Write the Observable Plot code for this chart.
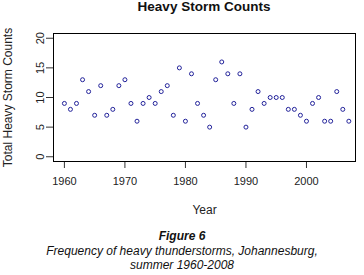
<!DOCTYPE html>
<html><head><meta charset="utf-8">
<script src="https://cdn.jsdelivr.net/npm/d3@7"></script>
<script src="https://cdn.jsdelivr.net/npm/@observablehq/plot@0.6"></script>
<style>
body{margin:0;background:#fff;font-family:"Liberation Sans",Arial,sans-serif;}
#wrap{position:relative;width:364px;height:275px;overflow:hidden;}
#title{position:absolute;top:-1px;left:53px;width:302px;text-align:center;font-weight:bold;font-size:13.5px;line-height:16px;color:#111;}
#caption{position:absolute;top:229px;left:0;width:364px;text-align:center;font-style:italic;font-size:12px;line-height:14.5px;color:#111;}
#caption b{font-weight:bold;}
</style></head>
<body>
<div id="wrap">
<div id="chart"></div>
<div id="title">Heavy Storm Counts</div>
<div id="caption"><b>Figure 6</b><br>Frequency of heavy thunderstorms, Johannesburg,<br>summer 1960-2008</div>
</div>
<script>
const years = [1960,1961,1962,1963,1964,1965,1966,1967,1968,1969,
               1970,1971,1972,1973,1974,1975,1976,1977,1978,1979,
               1980,1981,1982,1983,1984,1985,1986,1987,1988,1989,
               1990,1991,1992,1993,1994,1995,1996,1997,1998,1999,
               2000,2001,2002,2003,2004,2005,2006,2007];
const counts = [9,8,9,13,11,7,12,7,8,12,
                13,9,6,9,10,9,11,12,7,15,
                6,14,9,7,5,13,16,14,9,14,
                5,8,11,9,10,10,10,8,8,7,
                6,9,10,6,6,11,8,6];
const xTicks = [1960,1970,1980,1990,2000];
const yTicks = [0,5,10,15,20];
const xLabel = "Year";
const yLabel = "Total Heavy Storm Counts";

const data = years.map((y,i) => ({year: y, count: counts[i]}));

const chart = Plot.plot({
  width: 364, height: 275,
  marginLeft: 53, marginRight: 9, marginTop: 33, marginBottom: 114,
  style: {fontFamily: '"Liberation Sans", Arial, sans-serif', background: "#fff", color: "#222"},
  x: {domain: [1958.2, 2008.1]},
  y: {domain: [-0.8, 20.8]},
  marks: [
    Plot.axisX({ticks: xTicks, tickSize: 7, tickPadding: 9, tickFormat: d => String(d), fontSize: 11, label: null, stroke: "#333"}),
    Plot.axisY({ticks: yTicks, tickSize: 7, tickFormat: () => "", label: null, stroke: "#333"}),
    Plot.text(yTicks, {y: d => d, text: d => String(d), frameAnchor: "left", dx: -13, rotate: -90, textAnchor: "middle", lineAnchor: "middle", fontSize: 11, fill: "#222"}),
    Plot.text([yLabel], {frameAnchor: "left", dx: -45, rotate: -90, textAnchor: "middle", lineAnchor: "middle", fontSize: 12, fill: "#222"}),
    Plot.text([xLabel], {frameAnchor: "bottom", dy: 49, textAnchor: "middle", lineAnchor: "middle", fontSize: 12, fill: "#222"}),
    Plot.frame({stroke: "#000", strokeWidth: 1}),
    Plot.dot(data, {x: "year", y: "count", r: 2, stroke: "#22229a", strokeWidth: 1, fill: "none"})
  ]
});
document.getElementById("chart").appendChild(chart);
</script>
</body></html>
